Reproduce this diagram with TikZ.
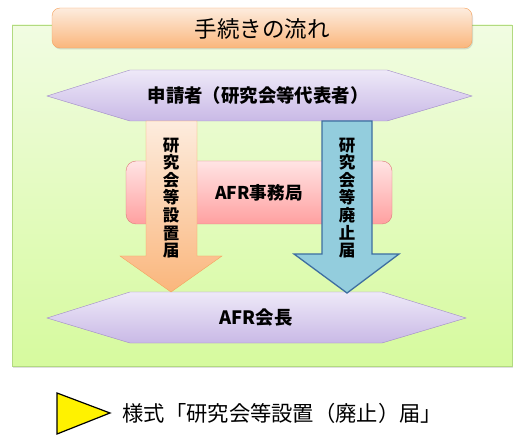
\documentclass[tikz,border=0pt]{standalone}
\usepackage{fontspec}
\setmainfont{Noto Sans CJK JP}
\usetikzlibrary{shadows}

\definecolor{greentop}{RGB}{241,252,226}
\definecolor{greenbot}{RGB}{214,250,158}
\definecolor{greenline}{RGB}{178,218,128}
\definecolor{orangetop}{RGB}{253,236,222}
\definecolor{orangebot}{RGB}{250,182,124}
\definecolor{orangeline}{RGB}{246,162,92}
\definecolor{purpletop}{RGB}{238,233,248}
\definecolor{purplebot}{RGB}{201,185,230}
\definecolor{purpleline}{RGB}{160,138,200}
\definecolor{pinktop}{RGB}{255,228,228}
\definecolor{pinkbot}{RGB}{255,160,160}
\definecolor{pinkline}{RGB}{222,122,122}
\definecolor{bluefill}{RGB}{147,205,221}
\definecolor{blueline}{RGB}{62,110,160}

\tikzset{
  softshadow/.style={drop shadow={shadow xshift=1pt,shadow yshift=-1.5pt,opacity=.25}},
  panel/.style={draw=greenline, top color=greentop, bottom color=greenbot, softshadow},
  titlebox/.style={draw=orangeline, top color=orangetop, bottom color=orangebot, rounded corners=8pt, softshadow},
  officebox/.style={draw=pinkline, top color=pinktop, bottom color=pinkbot, rounded corners=10pt},
  hexbox/.style={draw=purpleline, top color=purpletop, bottom color=purplebot},
  setuparrow/.style={draw=orangeline, top color=orangetop, bottom color=orangebot},
  closearrow/.style={draw=blueline, fill=bluefill, line width=1.3pt},
  boldlabel/.style={font=\bfseries\fontsize{18.4}{18.4}\selectfont},
  vlabel/.style={align=center, font=\bfseries\fontsize{16.5}{17.6}\selectfont},
}

\begin{document}
\begin{tikzpicture}[x=1pt,y=-1pt]
  \useasboundingbox (0,0) rectangle (522,446);
  % background panel and heading
  \path[panel] (12,25) rectangle (512,366);
  \path[titlebox] (52,8) rectangle (472,48);
  \node (title) at (262,29) {\fontsize{22.5}{22.5}\selectfont 手続きの流れ};

  % secretariat
  \path[officebox] (126,161) rectangle (392,224);
  \node[boldlabel, font=\bfseries\fontsize{17.6}{17.6}\selectfont] (office) at (259,193) {AFR事務局};

  % applicant and chairman
  \path[hexbox] (47,96) -- (130,70) -- (387,70) -- (472,96) -- (387,121) -- (130,121) -- cycle;
  \node[boldlabel] (applicant) at (258,96) {申請者（研究会等代表者）};
  \path[hexbox] (47,318) -- (130,292) -- (382,292) -- (466,318) -- (382,343) -- (130,343) -- cycle;
  \node[boldlabel] (chairman) at (256,318) {AFR会長};

  % block arrows
  \path[setuparrow] (146,121) -- (197,121) -- (197,256) -- (222,256)
    -- (171,292) -- (120,256) -- (146,256) -- cycle;
  \node[vlabel] (setup) at (171,198) {研\\究\\会\\等\\設\\置\\届};
  \path[closearrow] (322,121) -- (372,121) -- (372,254) -- (399,254)
    -- (347,293) -- (294,254) -- (322,254) -- cycle;
  \node[vlabel] (close) at (347,198) {研\\究\\会\\等\\廃\\止\\届};

  % legend
  \path[draw=black, fill=yellow, line width=1.2pt] (57,393) -- (110,413) -- (57,434) -- cycle;
  \node[anchor=west, font=\fontsize{21.3}{21.3}\selectfont] (form) at (119,413) {様式「研究会等設置（廃止）届」};
\end{tikzpicture}
\end{document}
